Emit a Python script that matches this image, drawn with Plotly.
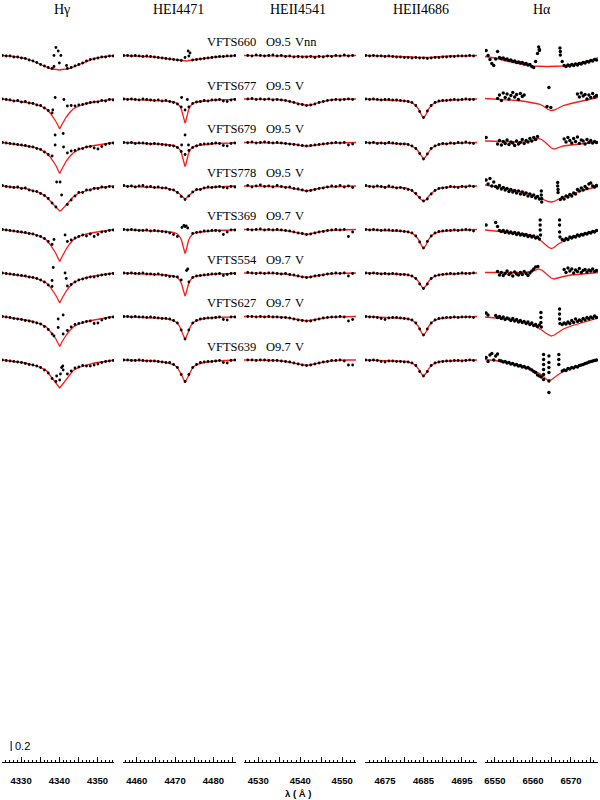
import plotly.graph_objects as go

# stars, top to bottom
STARS = ["VFTS660", "VFTS677", "VFTS679", "VFTS778", "VFTS369", "VFTS554", "VFTS627", "VFTS639"]
SPTYPE = ["O9.5", "O9.5", "O9.5", "O9.5", "O9.7", "O9.7", "O9.7", "O9.7"]
LUMCLASS = ["Vnn", "V", "V", "V", "V", "V", "V", "V"]
# continuum level of each star in the stacked plot
OFFSETS = [14.13, 13.26, 12.39, 11.52, 10.65, 9.78, 8.91, 8.04]
SCALE_BAR = 0.2

LINES = ["H\u03b3", "HEI4471", "HEII4541", "HEII4686", "H\u03b1"]

# ---- H gamma (fluxes in % of continuum) ----
HG_WAVE = [4325.1, 4328.1, 4331.1, 4333.1, 4335.1, 4336.6, 4337.6, 4338.4, 4339.1, 4339.6, 4340.1,
           4340.6, 4341.1, 4341.8, 4342.6, 4343.6, 4345.1, 4347.1, 4349.1, 4352.1, 4354.3]
HG_MODEL = [
    [100, 98, 94, 89, 82, 77, 74, 73, 72, 72, 71, 72, 72, 73, 74, 77, 82, 89, 94, 98, 100],
    [100, 97, 94, 91, 86, 80, 72, 64, 55, 48, 40, 48, 55, 64, 72, 80, 86, 91, 94, 97, 100],
    [100, 97, 94, 91, 86, 79, 71, 63, 54, 46, 38, 46, 54, 63, 71, 79, 86, 91, 94, 97, 100],
    [100, 98, 95, 91, 86, 78, 70, 62, 56, 52, 50, 52, 56, 62, 70, 78, 86, 91, 95, 98, 100],
    [100, 97, 94, 91, 86, 79, 70, 61, 52, 44, 36, 44, 52, 61, 70, 79, 86, 91, 94, 97, 100],
    [100, 97, 94, 91, 86, 80, 72, 64, 55, 48, 40, 48, 55, 64, 72, 80, 86, 91, 94, 97, 100],
    [100, 97, 93, 90, 85, 79, 71, 63, 55, 48, 40, 48, 55, 63, 71, 79, 85, 90, 93, 97, 100],
    [100, 97, 94, 90, 85, 79, 70, 61, 54, 49, 44, 49, 54, 61, 70, 79, 85, 90, 94, 97, 100],
]
HG_OBS_WAVE = [4325.1, 4326.1, 4327.1, 4328.1, 4329.1, 4330.1, 4331.1, 4332.1, 4333.1, 4334.1,
               4335.1, 4336.1, 4337.1, 4338.1, 4339.1, 4340.1, 4341.1, 4342.1, 4343.1, 4344.1,
               4345.1, 4346.1, 4347.1, 4348.1, 4349.1, 4350.1, 4351.1, 4352.1, 4353.1, 4354.1]
HG_OBS = [
    [100, 99, 99, 97, 97, 95, 94, 91, 89, 86, 82, 79, 76, 74, None, None, None, 74, 76, 79, 82, 85, 89, 92, 93, 95, 97, 97, 99, 99],
    [100, 99, 98, 96, 97, 94, 95, 92, 91, 88, 87, 82, 77, 72, None, None, None, 86, 87, 86, 88, 89, 91, 93, 94, 94, 97, 96, 99, 98],
    [100, 99, 98, 97, 96, 95, 94, 92, 91, 88, 86, 81, 76, 73, None, None, None, 79, 83, 84, 87, 88, 91, 92, 89, 87, 92, 96, 98, 99],
    [101, 99, 98, 97, 98, 95, 96, 92, 90, 89, 85, 81, 75, 66, 58, None, None, 63, 72, 80, 87, 87, 92, 92, 95, 95, 98, 97, 99, 98],
    [100, 99, 98, 97, 96, 95, 94, 92, 91, 88, 86, 82, 76, 70, None, None, None, 76, 79, 83, 86, 89, 87, 91, 86, 90, 95, 96, 98, 99],
    [100, 99, 98, 97, 96, 95, 94, 92, 91, 89, 86, 82, 76, 73, None, None, None, 74, 77, 82, 86, 88, 90, 92, 92, 94, 96, 97, 98, 99],
    [100, 99, 98, 96, 95, 94, 92, 91, 89, 87, 85, 80, 74, 65, None, None, None, 72, 79, 84, 86, 88, 90, 91, 86, 87, 93, 96, 98, 99],
    [100, 99, 98, 97, 96, 95, 93, 91, 90, 88, 85, 80, 74, 63, 57, 60, None, 72, 78, 84, 86, 89, 88, 88, 90, 92, 95, 97, 98, 99],
]
HG_NEB = [
    [[4339.1, 116], [4339.7, 109], [4338.6, 100], [4340.4, 100], [4340.0, 85], [4338.6, 78], [4341.9, 80]],
    [[4338.9, 103], [4341.2, 99], [4338.3, 78]],
    [[4338.9, 115], [4341.0, 118], [4338.9, 95], [4341.1, 91]],
    [[4339.3, 108], [4340.2, 108], [4340.6, 82]],
    [[4338.6, 80], [4341.5, 89]],
    [[4338.4, 111], [4341.5, 100], [4338.1, 85], [4341.8, 89]],
    [[4339.7, 95], [4341.0, 103], [4339.7, 78], [4341.0, 65], [4338.6, 61]],
    [[4340.6, 85], [4341.0, 80], [4339.3, 68], [4340.3, 72], [4340.9, 88]],
]

# ---- He I 4471 ----
HEI_WAVE = [4456.4, 4460.6, 4464.6, 4467.6, 4469.6, 4470.6, 4471.2, 4471.7, 4472.1, 4472.4, 4472.6,
            4472.8, 4473.1, 4473.5, 4474.0, 4474.6, 4475.6, 4477.6, 4480.6, 4484.6, 4485.9]
HEI_MODEL = [
    [100, 99, 97, 94, 92, 91, 90, 90, 89, 89, 89, 89, 89, 90, 90, 91, 92, 94, 97, 99, 100],
    [100, 99, 98, 96, 94, 91, 86, 78, 66, 56, 52, 56, 66, 78, 86, 91, 94, 96, 98, 99, 100],
    [100, 99, 98, 96, 94, 91, 86, 78, 66, 56, 52, 56, 66, 78, 86, 91, 94, 96, 98, 99, 100],
    [100, 99, 98, 96, 92, 88, 84, 80, 77, 75, 74, 75, 77, 80, 84, 88, 92, 96, 98, 99, 100],
    [100, 99, 98, 96, 94, 91, 86, 78, 66, 56, 52, 56, 66, 78, 86, 91, 94, 96, 98, 99, 100],
    [100, 99, 98, 96, 94, 91, 86, 78, 67, 58, 54, 58, 67, 78, 86, 91, 94, 96, 98, 99, 100],
    [100, 99, 98, 96, 92, 87, 80, 71, 63, 57, 54, 57, 63, 71, 80, 87, 92, 96, 98, 99, 100],
    [100, 99, 98, 95, 91, 85, 78, 70, 63, 58, 56, 58, 63, 70, 78, 85, 91, 95, 98, 99, 100],
]
HEI_OBS_WAVE = [4456.6, 4457.6, 4458.6, 4459.6, 4460.6, 4461.6, 4462.6, 4463.6, 4464.6, 4465.6,
                4466.6, 4467.6, 4468.6, 4469.6, 4470.6, 4471.6, 4472.6, 4473.6, 4474.6, 4475.6,
                4476.6, 4477.6, 4478.6, 4479.6, 4480.6, 4481.6, 4482.6, 4483.6, 4484.6, 4485.6]
HEI_OBS = [
    [100, 100, 99, 100, 99, 98, 99, 98, 97, 96, 95, 94, 93, 92, 91, 90, 96, 99, 91, 92, 93, 94, 95, 96, 97, 98, 98, 99, 99, 100],
    [100, 99, 100, 99, 98, 100, 99, 98, 97, 98, 96, 97, 95, 93, 90, 84, 78, 84, 91, 94, 95, 97, 96, 98, 98, 99, 96, 95, 98, 99],
    [100, 99, 100, 98, 99, 99, 98, 97, 98, 97, 96, 95, 94, 93, 90, 82, 76, 84, 90, 93, 96, 97, 97, 98, 99, 98, 94, 93, 98, 99],
    [101, 99, 100, 98, 100, 101, 98, 99, 97, 98, 96, 96, 93, 92, 87, 79, 73, 80, 88, 93, 93, 96, 98, 97, 98, 99, 97, 96, 99, 98],
    [100, 99, 100, 99, 98, 98, 99, 97, 98, 97, 96, 95, 93, 90, 86, None, None, None, 92, 94, 95, 97, 97, 98, 98, 97, 90, 95, 99, 99],
    [100, 99, 100, 99, 99, 100, 98, 98, 97, 98, 96, 95, 93, 93, 92, 86, None, 82, 91, 94, 95, 96, 97, 98, 98, 99, 95, 97, 99, 99],
    [100, 100, 99, 100, 99, 99, 98, 99, 98, 97, 96, 96, 95, 92, 87, 73, 55, 73, 87, 92, 95, 96, 97, 97, 98, 99, 94, 93, 99, 99],
    [100, 100, 99, 99, 100, 99, 98, 98, 98, 97, 96, 95, 95, 91, 85, 71, 57, 71, 85, 91, 95, 96, 97, 97, 98, 99, 95, 94, 99, 100],
]
HEI_NEB = [
    [[4473.4, 109], [4473.9, 105]],
    [[4471.7, 103], [4473.2, 99]],
    [[4472.6, 115], [4471.7, 95], [4473.5, 95]],
    [],
    [[4471.8, 104], [4472.3, 108], [4472.9, 107], [4473.3, 103], [4472.6, 106]],
    [[4473.0, 105], [4473.3, 108]],
    [],
    [],
]

# ---- He II 4541 ----
HEII45_WAVE = [4526.6, 4531.5, 4534.5, 4536.5, 4538.0, 4539.0, 4540.0, 4540.8, 4541.5, 4542.2,
               4543.0, 4544.0, 4545.0, 4546.5, 4548.5, 4551.5, 4553.3]
HEII45_MODEL = [
    [100, 100, 99, 99, 98, 98, 97, 97, 97, 97, 97, 98, 98, 99, 99, 100, 100],
    [100, 99, 99, 97, 94, 92, 89, 88, 87, 88, 89, 92, 94, 97, 99, 99, 100],
    [100, 100, 99, 98, 97, 96, 94, 93, 93, 93, 94, 96, 97, 98, 99, 100, 100],
    [100, 100, 99, 98, 96, 94, 92, 91, 90, 91, 92, 94, 96, 98, 99, 100, 100],
    [100, 100, 99, 98, 96, 94, 92, 91, 90, 91, 92, 94, 96, 98, 99, 100, 100],
    [100, 100, 99, 98, 96, 95, 93, 92, 91, 92, 93, 95, 96, 98, 99, 100, 100],
    [100, 100, 99, 98, 96, 95, 93, 92, 91, 92, 93, 95, 96, 98, 99, 100, 100],
    [100, 100, 99, 97, 95, 93, 91, 90, 89, 90, 91, 93, 95, 97, 99, 100, 100],
]
HEII45_OBS_WAVE = [4527.5, 4528.5, 4529.5, 4530.5, 4531.5, 4532.5, 4533.5, 4534.5, 4535.5,
                   4536.5, 4537.5, 4538.5, 4539.5, 4540.5, 4541.5, 4542.5, 4543.5, 4544.5,
                   4545.5, 4546.5, 4547.5, 4548.5, 4549.5, 4550.5, 4551.5, 4552.5]
HEII45_OBS = [
    [100, 99, 101, 100, 99, 100, 101, 99, 100, 98, 99, 97, 98, 97, 97, 98, 96, 98, 97, 99, 98, 100, 99, 101, 99, 100],
    [100, 101, 99, 100, 99, 100, 98, 99, 98, 97, 95, 93, 90, 89, 87, 88, 90, 93, 95, 97, 98, 99, 98, 99, 100, 99],
    [100, 101, 99, 100, 101, 100, 99, 100, 99, 98, 97, 96, 95, 94, 93, 94, 95, 96, 97, 98, 99, 100, 99, 100, 95, 97],
    [101, 98, 100, 102, 99, 100, 98, 101, 99, 97, 98, 95, 94, 92, 90, 91, 93, 95, 96, 98, 100, 99, 101, 98, 100, 97],
    [100, 99, 100, 101, 99, 100, 99, 100, 99, 98, 97, 95, 93, 92, 90, 91, 93, 95, 96, 98, 99, 100, 99, 100, 86, 95],
    [101, 100, 99, 100, 99, 100, 100, 99, 98, 99, 97, 96, 94, 92, 91, 92, 94, 95, 96, 98, 99, 100, 99, 100, 94, 99],
    [100, 100, 99, 100, 99, 100, 99, 99, 98, 98, 97, 95, 93, 92, 91, 91, 93, 95, 97, 98, 99, 99, 100, 99, 91, 94],
    [100, 100, 99, 100, 100, 99, 99, 99, 98, 97, 96, 94, 92, 90, 89, 90, 92, 94, 96, 97, 99, 99, 100, 98, 90, 90],
]

# ---- He II 4686 ----
HEII46_WAVE = [4669.8, 4674.0, 4678.0, 4680.5, 4682.0, 4683.0, 4683.7, 4684.3, 4684.7, 4685.0,
               4685.3, 4685.7, 4686.3, 4687.0, 4688.0, 4689.5, 4692.0, 4696.0, 4698.9]
HEII46_MODEL = [
    [100, 99, 99, 98, 97, 96, 96, 95, 95, 95, 95, 95, 96, 96, 97, 98, 99, 99, 100],
    [100, 99, 98, 96, 93, 87, 80, 70, 65, 63, 65, 70, 80, 87, 93, 96, 98, 99, 100],
    [100, 99, 98, 97, 93, 88, 82, 74, 69, 67, 69, 74, 82, 88, 93, 97, 98, 99, 100],
    [100, 99, 98, 96, 91, 85, 79, 73, 71, 70, 71, 73, 79, 85, 91, 96, 98, 99, 100],
    [100, 99, 98, 96, 93, 87, 80, 70, 65, 63, 65, 70, 80, 87, 93, 96, 98, 99, 100],
    [100, 99, 98, 97, 94, 89, 83, 75, 71, 69, 71, 75, 83, 89, 94, 97, 98, 99, 100],
    [100, 99, 98, 96, 93, 87, 80, 70, 65, 63, 65, 70, 80, 87, 93, 96, 98, 99, 100],
    [100, 99, 98, 97, 94, 89, 82, 74, 70, 68, 70, 74, 82, 89, 94, 97, 98, 99, 100],
]
HEII46_OBS_WAVE = [4670, 4671, 4672, 4673, 4674, 4675, 4676, 4677, 4678, 4679, 4680, 4681, 4682,
                   4683, 4684, 4685, 4686, 4687, 4688, 4689, 4690, 4691, 4692, 4693, 4694, 4695,
                   4696, 4697, 4698]
HEII46_OBS = [
    [100, 99, 100, 99, 99, 98, 99, 98, 97, 97, 96, 96, 95, 96, 95, 95, 94, 95, 96, 96, 97, 97, 98, 98, 99, 99, 99, 100, 99],
    [100, 99, 100, 99, 98, 99, 99, 98, 98, 97, 96, 95, 93, 87, 75, 63, 76, 87, 93, 96, 97, 97, 98, 99, 98, 99, 100, 99, 99],
    [100, 99, 100, 98, 99, 98, 100, 99, 98, 97, 97, 96, 93, 88, 78, 67, 77, 88, 93, 96, 98, 97, 99, 98, 100, 99, 101, 99, 98],
    [101, 99, 98, 100, 99, 97, 100, 98, 96, 97, 95, 93, 91, 85, 77, 70, 74, 84, 91, 95, 96, 97, 99, 98, 97, 99, 98, 100, 99],
    [100, 99, 100, 99, 98, 99, 99, 98, 98, 97, 96, 95, 93, 87, 75, 63, 76, 87, 93, 96, 97, 98, 98, 99, 98, 99, 100, 99, 97],
    [100, 99, 100, 99, 98, 99, 98, 99, 98, 97, 97, 96, 94, 89, 78, 69, 78, 89, 94, 96, 97, 98, 99, 98, 99, 100, 99, 99, 100],
    [100, 99, 99, 98, 96, 94, 97, 98, 98, 97, 96, 95, 93, 87, 75, 63, 75, 87, 93, 96, 97, 98, 98, 99, 98, 99, 99, 99, 98],
    [100, 99, 100, 99, 97, 96, 98, 98, 97, 97, 96, 96, 94, 89, 77, 68, 77, 89, 94, 96, 97, 98, 98, 99, 99, 98, 99, 100, 99],
]

# ---- H alpha ----
HA_WAVE = [6547.4, 6550.0, 6553.0, 6556.0, 6558.0, 6560.0, 6561.5, 6562.5, 6563.3, 6564.0,
           6564.8, 6565.6, 6566.5, 6568.0, 6570.0, 6572.0, 6574.5, 6577.1]
HA_MODEL = [
    [98, 95, 89, 84, 81, 79, 78, 78, 78, 78, 78, 78, 78, 79, 81, 84, 89, 96],
    [101, 100, 99, 97, 95, 93, 90, 87, 83, 79, 77, 78, 81, 87, 91, 94, 98, 103],
    [103, 102, 101, 101, 101, 104, 108, 105, 100, 95, 89, 87, 89, 93, 95, 97, 99, 101],
    [102, 99, 95, 90, 87, 82, 77, 74, 71, 69, 68, 69, 73, 78, 83, 89, 94, 99],
    [99, 97, 95, 93, 91, 87, 81, 75, 70, 65, 62, 64, 70, 77, 84, 89, 93, 98],
    [101, 101, 100, 100, 101, 104, 108, 105, 100, 95, 90, 88, 90, 93, 96, 98, 99, 101],
    [99, 97, 95, 91, 88, 83, 77, 72, 67, 64, 61, 63, 68, 75, 81, 86, 91, 97],
    [101, 99, 95, 89, 85, 80, 74, 69, 63, 59, 60, 65, 70, 77, 83, 87, 93, 100],
]
HA_OBS_WAVE = [6547.7, 6548.2, 6548.7, 6549.2, 6549.7, 6550.2, 6550.7, 6551.2, 6551.7, 6552.2,
               6552.7, 6553.2, 6553.7, 6554.2, 6554.7, 6555.2, 6555.7, 6556.2, 6556.7, 6557.2,
               6557.7, 6558.2, 6558.7, 6559.2, 6559.7, 6560.2, 6560.7, 6561.2, 6561.7, 6562.2,
               6562.7, 6563.2, 6563.7, 6564.2, 6564.7, 6565.2, 6565.7, 6566.2, 6566.7, 6567.2,
               6567.7, 6568.2, 6568.7, 6569.2, 6569.7, 6570.2, 6570.7, 6571.2, 6571.7, 6572.2,
               6572.7, 6573.2, 6573.7, 6574.2, 6574.7, 6575.2, 6575.7, 6576.2, 6576.7]
HA_OBS = [
    [110, 100, 92, 84, 80, 93, 108, 96, 94, 95, 92, 93, 90, 91, 88, 89, 86, 87, 85, 86, 83, 84, 81, 82, 78, 76, 88, 104, 112,
     None, None, None, None, None, None, None, None, None, None,
     108, 88, 80, 78, 81, 79, 82, 80, 83, 81, 84, 83, 86, 85, 88, 87, 90, 89, 92, 91],
    [None, None, None, None, None, None, 101, 108, 97, 112, 103, 110, 100, 107, 113, 104, 109, 99, 111, 105, 108,
     None, None, None, None, None, None, None, None, None, None, None, 85, None, 83,
     None, None, None, None, None, None, None, None, None, None, None, None, None,
     110, 104, 112, 106, 109, 100, 108, 103, 111, 104, 107],
    [110, None, None, None, None, None, 97, 104, 95, 102, 98, 105, 96, 101, 99, 94, 103, 97, 100, 106, 98, 104, 101, 108,
     103, 110, 106, 112, None, None, None, None, None, None, None, None, None, None, None, None, None,
     107, 101, 110, 104, 99, 108, 102, 111, 98, 105, 103, 97, 106, 100, 104, 99, 102, 100],
    [112, 104, 115, 100, 108, 99, 96, 101, 94, 97, 92, 95, 89, 93, 88, 91, 86, 90, 84, 88, 83, 86, 80, 84, 79, 82, 76, 79, 74,
     None, None, None, None, None, None, None, None, None, None,
     73, 77, 74, 80, 78, 83, 80, 86, 84, 93, 90, 96, 92, 99, 95, 104, 106, 100, 98, 101],
    [109, None, None, None, None, 114, 106, 98, 96, 98, 94, 97, 93, 95, 92, 94, 90, 93, 89, 91, 88, 90, 86, 88, 85, 87, 83, 85, 81,
     None, None, None, None, None, None, None, None, None, None, None,
     80, 78, 82, 80, 85, 83, 86, 85, 89, 87, 90, 89, 92, 91, 94, 93, 96, 95, 98],
    [None, None, None, None, None, None, 103, 96, 101, 95, 99, 104, 97, 100, 94, 102, 98, 96, 101, 97, 103, 99, 95, 100, 104,
     108, 112, None, None, None, None, None, None, None, None, None, None, None, None, None, None,
     107, 101, 110, 104, 108, 100, 106, 103, 109, 101, 105, 107, 102, 106, 104, 108, 103, 105],
    [107, 103, None, None, None, 102, 98, 100, 96, 99, 94, 97, 95, 92, 96, 91, 94, 89, 92, 88, 90, 86, 89, 84, 87, 82, 84, 80, 83,
     None, None, None, None, None, None, None, None, None, None, None,
     84, 87, 85, 89, 86, 92, 88, 95, 90, 93, 91, 96, 93, 98, 95, 99, 97, 101, 98],
    [105, 97, 110, 113, 100, 108, 112, 99, 98, 96, 97, 94, 95, 92, 93, 90, 91, 88, 89, 86, 87, 84, 85, 82, 80, 77, 75, 70, 68, 66,
     None, None, None, None, None, None, None, None, None, None,
     78, 80, 79, 83, 82, 85, 84, 87, 86, 89, 90, 91, 93, 94, 96, 97, 98, 99, 100],
]
HA_NEB = [
    [[6561.5, 117], [6561.7, 110], [6567.1, 115], [6567.2, 101]],
    [[6564.2, 123]],
    [],
    [[6562.2, 90], [6562.2, 82], [6562.3, 75], [6562.3, 68], [6566.5, 107], [6566.5, 100], [6566.6, 93], [6566.6, 87]],
    [[6561.9, 119], [6561.9, 109], [6561.9, 99], [6562.0, 89], [6567.0, 119], [6567.0, 109], [6567.0, 95], [6567.1, 85]],
    [[6561.3, 113]],
    [[6562.1, 108], [6562.1, 98], [6562.1, 88], [6562.2, 79], [6567.0, 115], [6567.0, 105], [6567.0, 95], [6567.1, 86]],
    [[6562.8, 111], [6562.8, 101], [6562.8, 91], [6562.8, 81], [6562.8, 71], [6562.8, 61],
     [6564.2, 108], [6564.2, 95], [6564.2, 85], [6564.2, 75], [6564.2, 58], [6564.2, 35],
     [6566.8, 111], [6566.8, 101], [6566.8, 91]],
]

NO_NEB = [[] for _ in STARS]

# tick values / labels of the five wavelength axes
TICKVALS = [
    [4325, 4330, 4335, 4340, 4345, 4350],
    [4460, 4465, 4470, 4475, 4480, 4485],
    [4530, 4535, 4540, 4545, 4550],
    [4670, 4675, 4680, 4685, 4690, 4695],
    [6550, 6555, 6560, 6565, 6570, 6575],
]
TICKTEXT = [
    ["", "4330", "", "4340", "", "4350"],
    ["4460", "", "4470", "", "4480", ""],
    ["4530", "", "4540", "", "4550"],
    ["", "4675", "", "4685", "", "4695"],
    ["6550", "", "6560", "", "6570", ""],
]
X_RANGES = [[4325.0, 4354.3], [4456.4, 4485.9], [4526.6, 4553.3], [4669.8, 4698.9], [6547.4, 6577.1]]
X_PIX = [[2, 114], [123, 236], [244, 356], [365, 477], [485, 598]]
TITLE_PIX = [62, 178, 298, 421, 542]

panels = [
    (HG_WAVE, HG_MODEL, HG_OBS_WAVE, HG_OBS, HG_NEB),
    (HEI_WAVE, HEI_MODEL, HEI_OBS_WAVE, HEI_OBS, HEI_NEB),
    (HEII45_WAVE, HEII45_MODEL, HEII45_OBS_WAVE, HEII45_OBS, NO_NEB),
    (HEII46_WAVE, HEII46_MODEL, HEII46_OBS_WAVE, HEII46_OBS, NO_NEB),
    (HA_WAVE, HA_MODEL, HA_OBS_WAVE, HA_OBS, HA_NEB),
]

W, H = 600, 800
TOP, BOTTOM = 30, 38
Y_MAX = (H - TOP - BOTTOM) / 50.0  # 50 px per unit of flux


def shift(vals, off):
    return [None if v is None else off + v / 100.0 - 1.0 for v in vals]


fig = go.Figure()

for c, (wm, models, wo, obs, neb) in enumerate(panels):
    ax = "x" if c == 0 else f"x{c + 1}"
    dot = dict(color="black", size=3.4 if c == 4 else 2.8)
    for i, off in enumerate(OFFSETS):
        # model first, observed points drawn on top
        fig.add_trace(go.Scatter(x=wm, y=shift(models[i], off), mode="lines",
                                 line=dict(color="#ff1a1a", width=1.3),
                                 xaxis=ax, yaxis="y", hoverinfo="skip"))
        fig.add_trace(go.Scatter(x=wo, y=shift(obs[i], off), mode="markers", marker=dot,
                                 xaxis=ax, yaxis="y", hoverinfo="skip"))
        if neb[i]:
            fig.add_trace(go.Scatter(x=[p[0] for p in neb[i]], y=shift([p[1] for p in neb[i]], off),
                                     mode="markers", marker=dot, xaxis=ax, yaxis="y", hoverinfo="skip"))

# 0.2 flux scale bar
fig.add_trace(go.Scatter(x=[4327.4, 4327.4], y=[0.22, 0.22 + SCALE_BAR], mode="lines",
                         line=dict(color="black", width=1), xaxis="x", yaxis="y", hoverinfo="skip"))

tick_font = dict(family="Liberation Sans", size=9.5, color="black", weight="bold")
layout = dict(
    width=W, height=H, showlegend=False,
    paper_bgcolor="white", plot_bgcolor="white",
    margin=dict(l=0, r=0, t=TOP, b=BOTTOM),
    yaxis=dict(range=[0, Y_MAX], visible=False, fixedrange=True, domain=[0, 1]),
)
for c in range(5):
    key = "xaxis" if c == 0 else f"xaxis{c + 1}"
    layout[key] = dict(
        domain=[X_PIX[c][0] / W, X_PIX[c][1] / W], range=X_RANGES[c], anchor="y",
        showline=True, linecolor="black", linewidth=1, showgrid=False, zeroline=False,
        ticks="inside", ticklen=5, tickwidth=1, tickcolor="black",
        tickmode="array", tickvals=TICKVALS[c], ticktext=TICKTEXT[c],
        tickfont=tick_font, ticklabelstandoff=10, automargin=False, fixedrange=True,
        minor=dict(ticks="inside", ticklen=2, dtick=1, tick0=0, tickcolor="black", tickwidth=1),
    )
fig.update_layout(**layout)

plot_h = H - TOP - BOTTOM
ann = []
for c, name in enumerate(LINES):
    ann.append(dict(text=name, x=TITLE_PIX[c] / W, y=(H - BOTTOM - 10) / plot_h, xref="paper", yref="paper",
                    showarrow=False, xanchor="center", yanchor="middle",
                    font=dict(family="Liberation Serif", size=14, color="black")))
for i, off in enumerate(OFFSETS):
    for txt, px in ((STARS[i], 205), (SPTYPE[i], 264), (LUMCLASS[i], 293)):
        ann.append(dict(text=txt, x=px / W, y=off + 0.27, xref="paper", yref="y", showarrow=False,
                        xanchor="left", yanchor="middle",
                        font=dict(family="Liberation Serif", size=12.5, color="black")))
ann.append(dict(text="0.2", x=13 / W, y=0.22 + SCALE_BAR / 2, xref="paper", yref="y", showarrow=False,
                xanchor="left", yanchor="middle", font=dict(family="Liberation Sans", size=11, color="black")))
ann.append(dict(text="\u03bb ( \u00c5 )", x=298 / W, y=-31 / plot_h, xref="paper", yref="paper",
                showarrow=False, xanchor="center", yanchor="middle",
                font=dict(family="Liberation Sans", size=9.5, color="black", weight="bold")))
fig.update_layout(annotations=ann)

# the page's default 8px body margin would push the figure off its place
fig.write_html("out.html", config={"displayModeBar": False},
               post_script="document.body.style.margin='0';document.body.style.padding='0';")
